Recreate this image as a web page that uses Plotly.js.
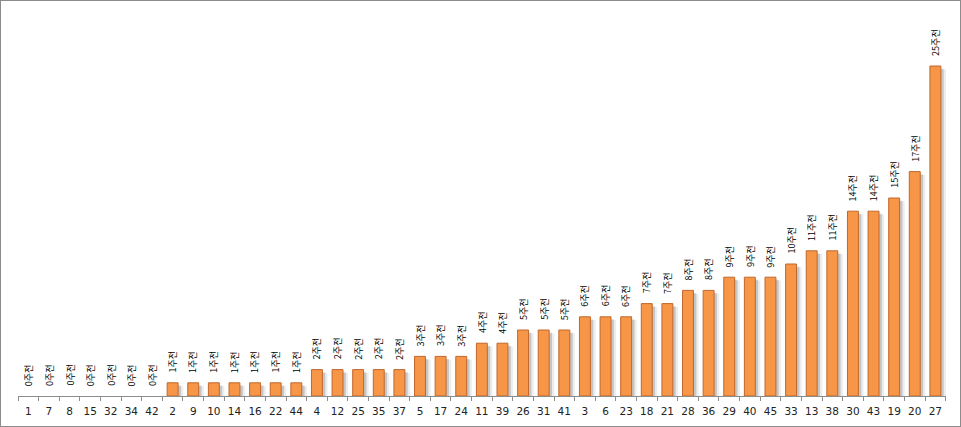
<!DOCTYPE html>
<html>
<head>
<meta charset="utf-8">
<script src="https://cdn.plot.ly/plotly-3.0.1.min.js"></script>
<style>
  body { margin: 0; background: #fff; }
  #wrap { position: relative; width: 961px; height: 427px; }
  #chart { width: 961px; height: 427px; }
  #frame { position: absolute; left: 0; top: 0; width: 961px; height: 427px;
           box-sizing: border-box; border: 1px solid #8c8c8c; pointer-events: none; }
</style>
</head>
<body>
<div id="wrap">
  <div id="chart"></div>
  <div id="frame"></div>
</div>
<script>
// 번호별 미출현 주수 (몇 주 전에 마지막으로 나왔는지)
var numbers = ["1", "7", "8", "15", "32", "34", "42",
               "2", "9", "10", "14", "16", "22", "44",
               "4", "12", "25", "35", "37",
               "5", "17", "24",
               "11", "39",
               "26", "31", "41",
               "3", "6", "23",
               "18", "21",
               "28", "36",
               "29", "40", "45",
               "33",
               "13", "38",
               "30", "43",
               "19", "20", "27"];
var weeksAgo = [0, 0, 0, 0, 0, 0, 0,
                1, 1, 1, 1, 1, 1, 1,
                2, 2, 2, 2, 2,
                3, 3, 3,
                4, 4,
                5, 5, 5,
                6, 6, 6,
                7, 7,
                8, 8,
                9, 9, 9,
                10,
                11, 11,
                14, 14,
                15, 17, 25];
var labelSuffix = "주전";

var barW = 0.53;

// 그림자 (오른쪽 아래로 번지는 회색)
var shadow1 = {
  type: 'bar', x: numbers, y: weeksAgo, base: -0.2,
  width: barW, offset: -barW / 2 + 0.14,
  marker: { color: 'rgba(0,0,0,0.16)' },
  hoverinfo: 'skip'
};
var shadow2 = {
  type: 'bar', x: numbers, y: weeksAgo, base: -0.25,
  width: barW, offset: -barW / 2 + 0.25,
  marker: { color: 'rgba(0,0,0,0.07)' },
  hoverinfo: 'skip'
};
var bars = {
  type: 'bar', x: numbers, y: weeksAgo,
  width: barW, offset: -barW / 2,
  marker: {
    color: '#F79646',
    line: { color: '#C0672C', width: weeksAgo.map(function (v) { return v > 0 ? 1 : 0; }) }
  },
  hoverinfo: 'skip'
};

// 막대 위 세로 라벨 (카테고리 축이라 x는 순번으로)
var labels = [];
for (var i = 0; i < numbers.length; i++) {
  labels.push({
    x: i, y: weeksAgo[i], xref: 'x', yref: 'y',
    text: weeksAgo[i] + labelSuffix,
    showarrow: false, textangle: -90,
    yanchor: 'bottom', xanchor: 'center', yshift: 8,
    font: { family: '"Noto Sans CJK KR", sans-serif', size: 9, color: '#000' }
  });
}

var layout = {
  width: 961, height: 427,
  margin: { l: 18, r: 15, t: 0, b: 31 },
  paper_bgcolor: '#fff', plot_bgcolor: '#fff',
  showlegend: false,
  barmode: 'overlay',
  xaxis: {
    type: 'category',
    showline: true, linecolor: '#8c8c8c', linewidth: 1,
    ticks: 'outside', tickson: 'boundaries', ticklen: 4, tickcolor: '#8c8c8c',
    tickangle: 0, ticklabelstandoff: 5,
    showgrid: false, zeroline: false,
    tickfont: { family: '"DejaVu Sans", sans-serif', size: 10.5, color: '#222' },
    fixedrange: true
  },
  yaxis: {
    range: [0, 30], visible: false, showgrid: false, zeroline: false, fixedrange: true
  },
  annotations: labels
};

Plotly.newPlot('chart', [shadow1, shadow2, bars], layout, { staticPlot: true });
</script>
</body>
</html>
